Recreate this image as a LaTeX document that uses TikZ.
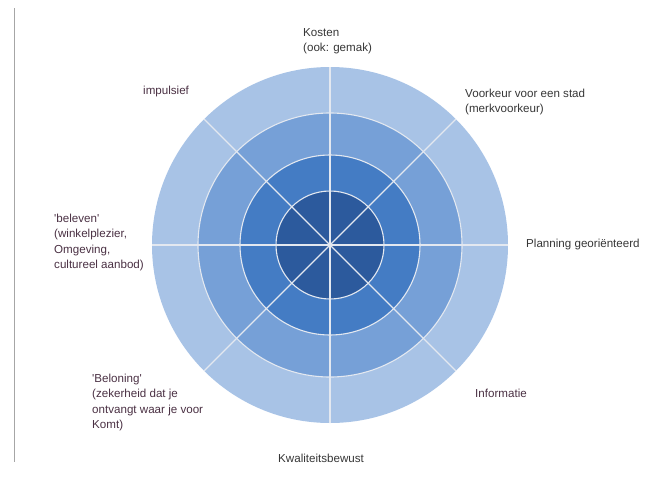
\documentclass[tikz,border=0pt]{standalone}
\usepackage{fontspec}
\setmainfont{Liberation Sans}
\definecolor{ringA}{HTML}{A8C3E6}
\definecolor{ringB}{HTML}{76A0D7}
\definecolor{ringC}{HTML}{447CC4}
\definecolor{ringD}{HTML}{2C5A9D}
\definecolor{divider}{HTML}{E3E8F0}
\definecolor{txtgray}{HTML}{363636}
\definecolor{txtplum}{HTML}{4A3043}
\tikzset{
  lbl/.style={anchor=north west, inner sep=0pt, align=left,
    font=\fontsize{11.6}{15.2}\selectfont, text=txtgray},
  lblplum/.style={lbl, text=txtplum},
  divline/.style={draw=divider, line width=1.1pt},
}
\begin{document}
\begin{tikzpicture}[x=1pt, y=-1pt]
  \useasboundingbox (0,0) rectangle (659,493);
  % left margin rule
  \draw[gray!70, line width=0.9pt] (14,8) -- (14,462);
  % concentric rings
  \coordinate (c) at (330,245);
  \fill[ringA] (c) circle[radius=178pt];
  \fill[ringB] (c) circle[radius=132pt];
  \fill[ringC] (c) circle[radius=90pt];
  \fill[ringD] (c) circle[radius=54pt];
  \foreach \r in {54,90,132} \draw[divline] (c) circle[radius=\r pt];
  % eight spokes
  \foreach \a in {0,45,...,315} \draw[divline] (c) -- ++(\a:178pt);
  % labels
  \node[lbl] (kosten) at (303,28) {Kosten\\(ook: gemak)};
  \node[lbl] (voorkeur) at (465,89) {Voorkeur voor een stad\\(merkvoorkeur)};
  \node[lbl] (planning) at (526,239) {Planning georiënteerd};
  \node[lblplum] (informatie) at (475,389) {Informatie};
  \node[lbl] (kwaliteit) at (278,454) {Kwaliteitsbewust};
  \node[lblplum] (beloning) at (92,374) {\textquotesingle Beloning\textquotesingle\\(zekerheid dat je\\ontvangt waar je voor\\Komt)};
  \node[lblplum] (beleven) at (54,214) {\textquotesingle beleven\textquotesingle\\(winkelplezier,\\Omgeving,\\cultureel aanbod)};
  \node[lblplum] (impulsief) at (143,86) {impulsief};
\end{tikzpicture}
\end{document}
